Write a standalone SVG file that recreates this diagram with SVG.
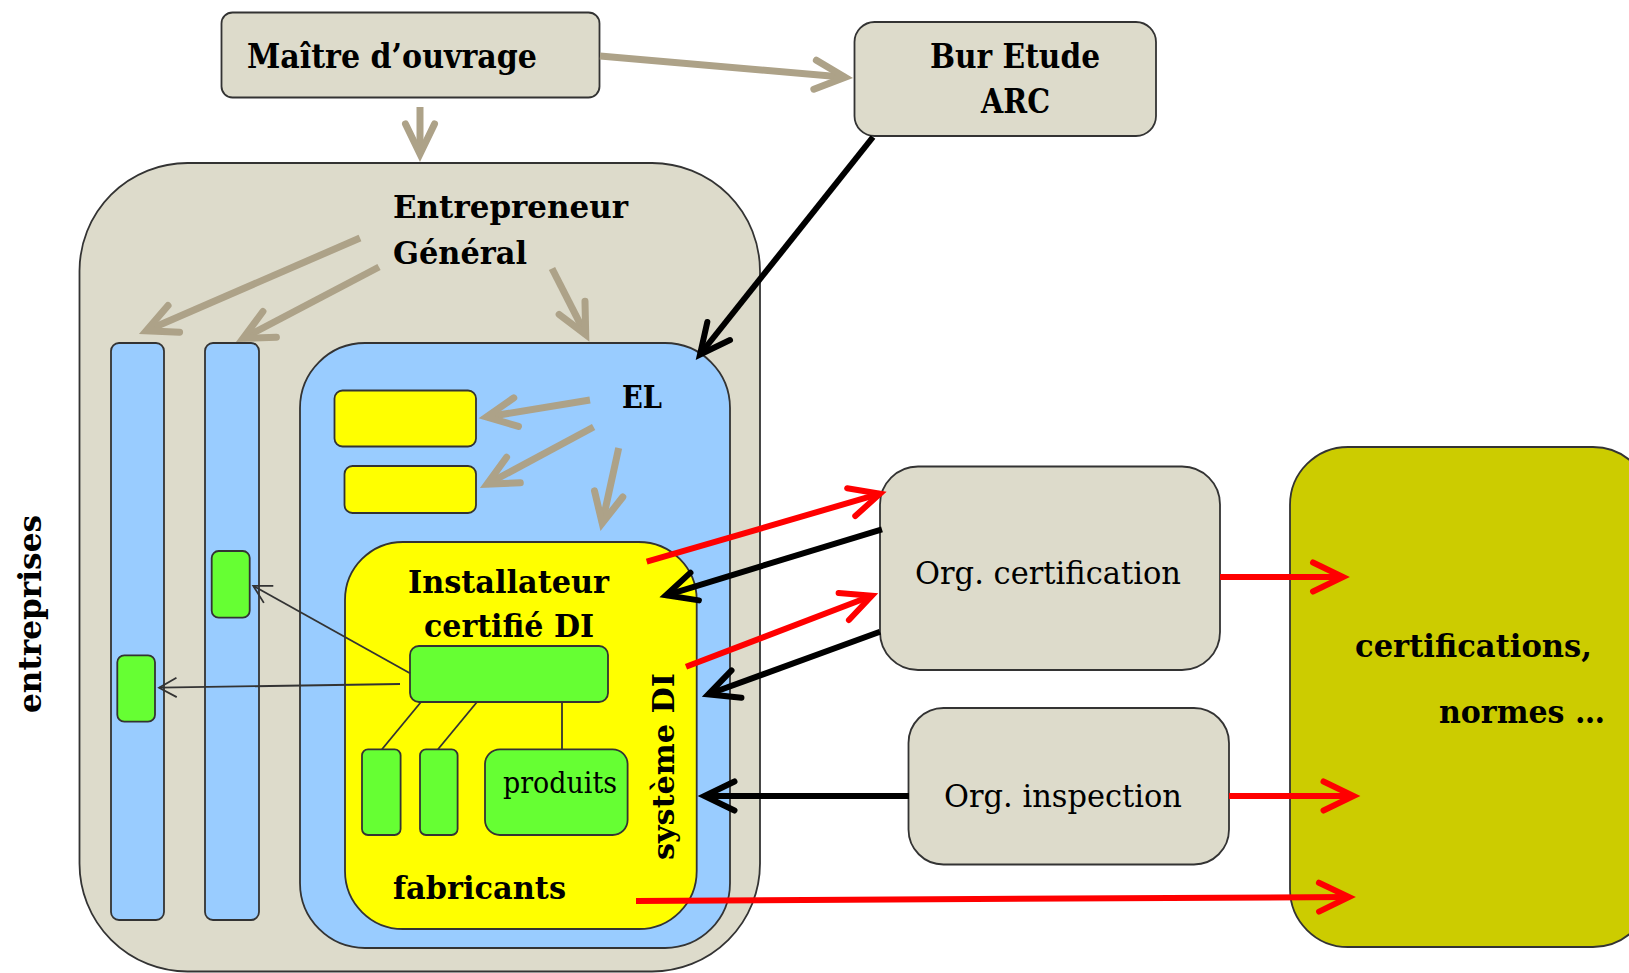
<svg xmlns="http://www.w3.org/2000/svg" width="1629" height="973" viewBox="0 0 1629 973">
<style>
.beige{fill:#DDDBCB;stroke:#333;stroke-width:1.8}
.blue{fill:#99CCFF;stroke:#333;stroke-width:1.8}
.yel{fill:#FFFF00;stroke:#333;stroke-width:1.8}
.grn{fill:#66FF33;stroke:#333;stroke-width:1.8}
.olive{fill:#CCCC00;stroke:#333;stroke-width:1.8}
.b{font-family:"DejaVu Serif","Liberation Serif",serif;font-weight:bold;fill:#000}
.r{font-family:"DejaVu Serif","Liberation Serif",serif;font-weight:normal;fill:#000}
.gray{stroke:#ADA288;stroke-width:7;fill:none}
.blk{stroke:#000;stroke-width:6;fill:none}
.red{stroke:#FF0000;stroke-width:6;fill:none}
.thin{stroke:#333;stroke-width:1.8;fill:none}
</style>
<defs>
<marker id="ah-gray" markerUnits="userSpaceOnUse" orient="auto" viewBox="-45 -25 55 50" markerWidth="55" markerHeight="50" refX="0" refY="0" overflow="visible">
<path d="M-30,-14.5 L0,0 L-30,14.5" fill="none" stroke="#ADA288" stroke-width="7" stroke-linecap="round" stroke-linejoin="miter"/>
</marker>
<marker id="ah-blk" markerUnits="userSpaceOnUse" orient="auto" viewBox="-45 -25 55 50" markerWidth="55" markerHeight="50" refX="0" refY="0" overflow="visible">
<path d="M-30,-14.5 L0,0 L-30,14.5" fill="none" stroke="#000" stroke-width="6" stroke-linecap="round" stroke-linejoin="miter"/>
</marker>
<marker id="ah-red" markerUnits="userSpaceOnUse" orient="auto" viewBox="-45 -25 55 50" markerWidth="55" markerHeight="50" refX="0" refY="0" overflow="visible">
<path d="M-30,-14.5 L0,0 L-30,14.5" fill="none" stroke="#FF0000" stroke-width="6" stroke-linecap="round" stroke-linejoin="miter"/>
</marker>
<marker id="ah-thin" markerUnits="userSpaceOnUse" orient="auto" viewBox="-25 -15 30 30" markerWidth="30" markerHeight="30" refX="0" refY="0" overflow="visible">
<path d="M-17.5,-9.7 L0,0 L-17.5,9.7" fill="none" stroke="#333" stroke-width="1.8"/>
</marker>
</defs>
<rect width="1629" height="973" fill="#FFFFFF"/>

<g id="maitre-ouvrage">
<rect class="beige" x="221.5" y="12.5" width="378" height="85" rx="11"/>
<text class="b" x="247" y="68" font-size="34" textLength="290" lengthAdjust="spacingAndGlyphs">Maître d’ouvrage</text>
</g>

<g id="bur-etude">
<rect class="beige" x="854.5" y="22" width="301.5" height="114" rx="20"/>
<text class="b" x="930" y="68" font-size="34" textLength="170" lengthAdjust="spacingAndGlyphs">Bur Etude</text>
<text class="b" x="981" y="113" font-size="34" textLength="69" lengthAdjust="spacingAndGlyphs">ARC</text>
</g>

<g id="entrepreneur-general">
<rect class="beige" x="79.5" y="163" width="680.5" height="808.5" rx="108"/>
<text class="b" x="393" y="218" font-size="32" textLength="235" lengthAdjust="spacingAndGlyphs">Entrepreneur</text>
<text class="b" x="393" y="264" font-size="32" textLength="134" lengthAdjust="spacingAndGlyphs">Général</text>
</g>

<g id="entreprises-label">
<text class="b" transform="translate(41,713) rotate(-90)" x="0" y="0" font-size="32" textLength="198" lengthAdjust="spacingAndGlyphs">entreprises</text>
</g>

<g id="entreprise-col1">
<rect class="blue" x="111" y="343" width="53" height="577" rx="8"/>
</g>
<g id="entreprise-col2">
<rect class="blue" x="205" y="343" width="54" height="577" rx="8"/>
</g>

<g id="el">
<rect class="blue" x="300" y="343" width="430" height="605" rx="65"/>
<text class="b" x="622" y="408" font-size="32" textLength="40" lengthAdjust="spacingAndGlyphs">EL</text>
</g>

<g id="el-box1">
<rect class="yel" x="334.5" y="390.5" width="141.5" height="56" rx="8"/>
</g>
<g id="el-box2">
<rect class="yel" x="344.5" y="466" width="131.5" height="47" rx="8"/>
</g>

<g id="installateur">
<rect class="yel" x="345" y="542" width="351.7" height="387" rx="58"/>
<text class="b" x="408" y="593" font-size="32" textLength="201" lengthAdjust="spacingAndGlyphs">Installateur</text>
<text class="b" x="424" y="637" font-size="32" textLength="170" lengthAdjust="spacingAndGlyphs">certifié DI</text>
<text class="b" x="393" y="899" font-size="32" textLength="173" lengthAdjust="spacingAndGlyphs">fabricants</text>
<text class="b" transform="translate(674,860) rotate(-90)" x="0" y="0" font-size="29" textLength="187" lengthAdjust="spacingAndGlyphs">système DI</text>
</g>

<g id="systeme-di-main">
<rect class="grn" x="410" y="646" width="198" height="56" rx="9"/>
</g>
<g id="fabricant-1">
<rect class="grn" x="362" y="749.3" width="38.6" height="85.7" rx="6"/>
</g>
<g id="fabricant-2">
<rect class="grn" x="420" y="749.3" width="37.6" height="85.7" rx="6"/>
</g>
<g id="produits">
<rect class="grn" x="485" y="749.3" width="142.6" height="85.7" rx="15"/>
<text class="r" x="503" y="793" font-size="29" textLength="114" lengthAdjust="spacingAndGlyphs">produits</text>
</g>
<g id="col2-green">
<rect class="grn" x="211.7" y="551" width="38" height="66.7" rx="7"/>
</g>
<g id="col1-green">
<rect class="grn" x="117.3" y="655.3" width="37.7" height="66.4" rx="7"/>
</g>

<g id="org-certification">
<rect class="beige" x="880" y="466.5" width="340" height="203.5" rx="38"/>
<text class="r" x="915" y="584" font-size="31" textLength="266" lengthAdjust="spacingAndGlyphs">Org. certification</text>
</g>

<g id="org-inspection">
<rect class="beige" x="908.5" y="708" width="320.5" height="156.5" rx="35"/>
<text class="r" x="944" y="807" font-size="31" textLength="238" lengthAdjust="spacingAndGlyphs">Org. inspection</text>
</g>

<g id="certifications-normes">
<rect class="olive" x="1290" y="447" width="361" height="500" rx="58"/>
<text class="b" x="1355" y="657" font-size="32" textLength="237" lengthAdjust="spacingAndGlyphs">certifications,</text>
<text class="b" x="1439" y="723" font-size="32" textLength="166" lengthAdjust="spacingAndGlyphs">normes …</text>
</g>

<g id="connectors">
<line class="thin" x1="421" y1="702" x2="382" y2="749.3"/>
<line class="thin" x1="477" y1="702" x2="438" y2="749.3"/>
<line class="thin" x1="562" y1="702" x2="562" y2="749.3"/>
<line class="thin" x1="410" y1="673.3" x2="253.3" y2="585.9" marker-end="url(#ah-thin)"/>
<line class="thin" x1="400" y1="684" x2="159.1" y2="687.7" marker-end="url(#ah-thin)"/>

<line class="gray" x1="600" y1="56" x2="845" y2="77.3" marker-end="url(#ah-gray)"/>
<line class="gray" x1="420" y1="107" x2="420" y2="154" marker-end="url(#ah-gray)"/>
<line class="gray" x1="360" y1="238" x2="146.3" y2="330.8" marker-end="url(#ah-gray)"/>
<line class="gray" x1="379" y1="267" x2="243.1" y2="338.3" marker-end="url(#ah-gray)"/>
<line class="gray" x1="552" y1="268.5" x2="585.7" y2="334.6" marker-end="url(#ah-gray)"/>
<line class="gray" x1="590" y1="400" x2="486.5" y2="417" marker-end="url(#ah-gray)"/>
<line class="gray" x1="593.6" y1="427" x2="487" y2="484.2" marker-end="url(#ah-gray)"/>
<line class="gray" x1="618.7" y1="448" x2="602.2" y2="523.2" marker-end="url(#ah-gray)"/>

<line class="blk" x1="873" y1="137" x2="700" y2="354.5" marker-end="url(#ah-blk)"/>
<line class="blk" x1="882" y1="529.3" x2="666" y2="595.3" marker-end="url(#ah-blk)"/>
<line class="blk" x1="880" y1="631.7" x2="708.3" y2="694.3" marker-end="url(#ah-blk)"/>
<line class="blk" x1="909" y1="796" x2="704.5" y2="796" marker-end="url(#ah-blk)"/>

<line class="red" x1="646.7" y1="561.7" x2="880" y2="493.7" marker-end="url(#ah-red)"/>
<line class="red" x1="686" y1="666.7" x2="871.8" y2="595.8" marker-end="url(#ah-red)"/>
<line class="red" x1="1220" y1="577" x2="1343" y2="577" marker-end="url(#ah-red)"/>
<line class="red" x1="1229" y1="796" x2="1353.5" y2="796" marker-end="url(#ah-red)"/>
<line class="red" x1="636" y1="901" x2="1349" y2="897" marker-end="url(#ah-red)"/>
</g>
</svg>
